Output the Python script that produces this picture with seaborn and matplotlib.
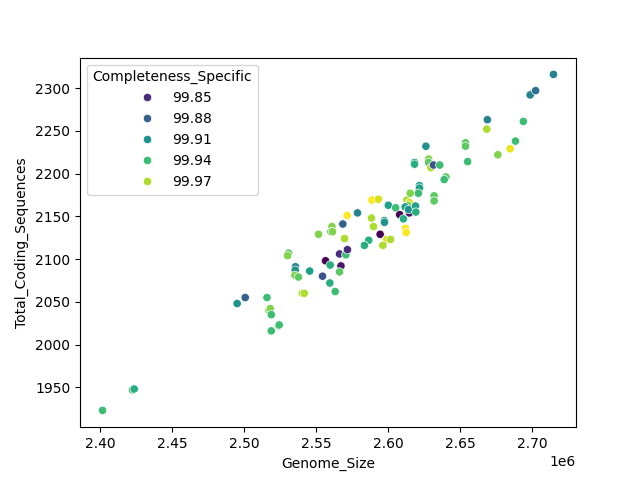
import matplotlib
matplotlib.use("Agg")
import matplotlib.pyplot as plt
import seaborn as sns
import pandas as pd

genome_size = [
    2.4016, 2.4224, 2.4236, 2.4951, 2.5007, 2.5158, 2.5172, 2.5181, 2.5188, 2.5188,
    2.5238, 2.5243, 2.5308, 2.5301, 2.5356, 2.5354, 2.5352, 2.5377, 2.5455, 2.5403,
    2.5417, 2.5544, 2.5565, 2.5597, 2.5662, 2.5706, 2.5717, 2.5672, 2.5662, 2.5595,
    2.5632, 2.5516, 2.5609, 2.5602, 2.5613, 2.5685, 2.5715, 2.5787, 2.5697, 2.5887,
    2.5932, 2.6001, 2.6052, 2.5884, 2.5898, 2.5974, 2.5974, 2.5944, 2.5865, 2.5835,
    2.5991, 2.6017, 2.5963, 2.6120, 2.6125, 2.6080, 2.6147, 2.6106, 2.6130, 2.6148,
    2.6137, 2.6118, 2.6141, 2.6190, 2.6192, 2.6153, 2.6217, 2.6217, 2.6210, 2.6319,
    2.6319, 2.6401, 2.6389, 2.6183, 2.6183, 2.6281, 2.6280, 2.6297, 2.6315, 2.6358,
    2.6262, 2.6537, 2.6537, 2.6552, 2.6689, 2.6685, 2.6939, 2.6884, 2.6847, 2.6762,
    2.6993, 2.6986, 2.7024, 2.7148,
]
genome_size = [v * 1e6 for v in genome_size]

total_cds = [
    1923, 1947, 1948, 2048, 2055, 2055, 2040, 2042, 2035, 2016,
    2022, 2023, 2107, 2104, 2091, 2087, 2081, 2079, 2086, 2060,
    2060, 2080, 2098, 2093, 2106, 2105, 2111, 2092, 2085, 2072,
    2062, 2129, 2138, 2132, 2132, 2141, 2151, 2154, 2124, 2169,
    2170, 2163, 2160, 2148, 2138, 2145, 2143, 2129, 2122, 2116,
    2123, 2123, 2116, 2136, 2131, 2152, 2154, 2147, 2169, 2166,
    2163, 2161, 2158, 2162, 2155, 2177, 2186, 2183, 2177, 2174,
    2168, 2196, 2193, 2213, 2211, 2217, 2213, 2207, 2210, 2210,
    2232, 2236, 2232, 2214, 2263, 2252, 2261, 2238, 2229, 2222,
    2293, 2292, 2297, 2316,
]

completeness = [
    99.94, 99.94, 99.93, 99.91, 99.88, 99.94, 99.96, 99.96, 99.94, 99.94,
    99.95, 99.94, 99.95, 99.96, 99.90, 99.91, 99.96, 99.95, 99.92, 99.97,
    99.97, 99.87, 99.83, 99.93, 99.85, 99.94, 99.85, 99.84, 99.95, 99.93,
    99.94, 99.96, 99.96, 99.95, 99.96, 99.88, 99.99, 99.90, 99.97, 99.99,
    99.98, 99.92, 99.94, 99.97, 99.97, 99.91, 99.91, 99.83, 99.93, 99.93,
    99.98, 99.97, 99.97, 99.99, 99.99, 99.83, 99.84, 99.93, 99.97, 99.98,
    99.96, 99.92, 99.91, 99.92, 99.93, 99.96, 99.92, 99.92, 99.94, 99.95,
    99.95, 99.95, 99.94, 99.92, 99.93, 99.96, 99.95, 99.97, 99.87, 99.94,
    99.91, 99.95, 99.95, 99.94, 99.90, 99.97, 99.94, 99.94, 99.985, 99.96,
    99.89, 99.90, 99.89, 99.90,
]

df = pd.DataFrame({
    "Genome_Size": genome_size,
    "Total_Coding_Sequences": total_cds,
    "Completeness_Specific": completeness,
})

fig, ax = plt.subplots(figsize=(6.4, 4.8), dpi=100)
sns.scatterplot(data=df, x="Genome_Size", y="Total_Coding_Sequences",
                hue="Completeness_Specific", palette="viridis", ax=ax)
ax.legend(title="Completeness_Specific", loc="upper left")
fig.savefig("out.png", dpi=100)
